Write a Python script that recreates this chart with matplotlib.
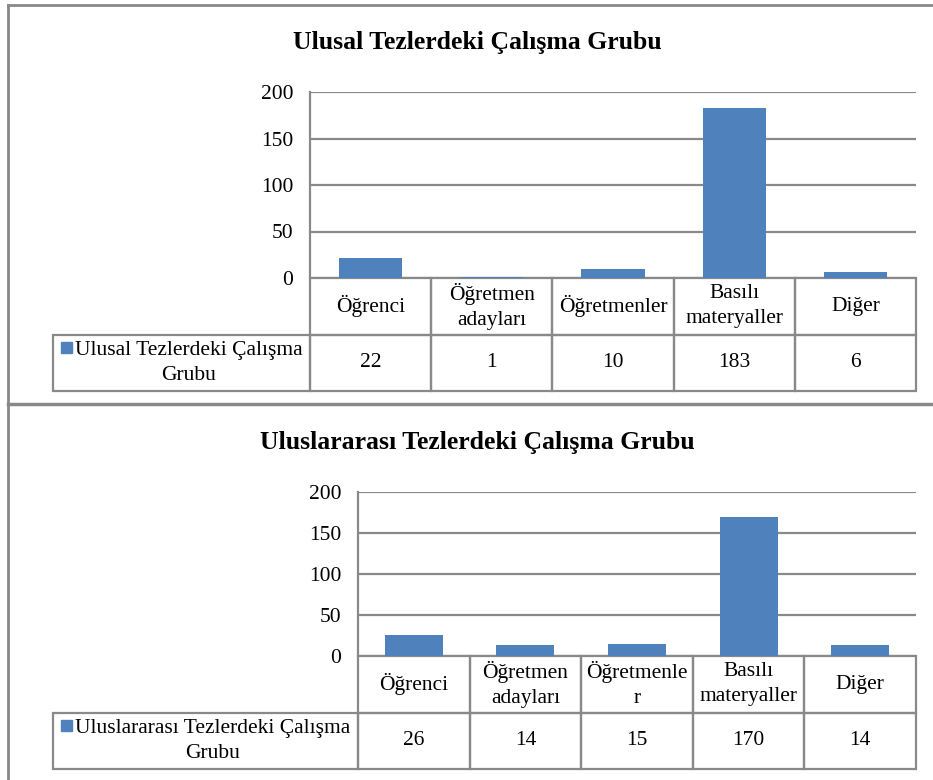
import matplotlib
matplotlib.use("Agg")
import matplotlib.pyplot as plt
from matplotlib.patches import Rectangle
from matplotlib.lines import Line2D

plt.rcParams['font.family'] = ['Liberation Serif', 'DejaVu Serif']

# Data
categories_top = ["Öğrenci", "Öğretmen\nadayları", "Öğretmenler", "Basılı\nmateryaller", "Diğer"]
values_top = [22, 1, 10, 183, 6]
categories_bottom = ["Öğrenci", "Öğretmen\nadayları", "Öğretmenle\nr", "Basılı\nmateryaller", "Diğer"]
values_bottom = [26, 14, 15, 170, 14]
yticks = [0, 50, 100, 150, 200]
title_top = "Ulusal Tezlerdeki Çalışma Grubu"
title_bottom = "Uluslararası Tezlerdeki Çalışma Grubu"
series_top = "Ulusal Tezlerdeki Çalışma\nGrubu"
series_bottom = "Uluslararası Tezlerdeki Çalışma\nGrubu"

BAR = "#4F81BD"
GRID = "#898989"
FS = 15.5
W, H = 933, 780

fig = plt.figure(figsize=(W / 100, H / 100), dpi=100)


def fx(x):
    return x / W


def fy(y):
    return 1 - y / H


def panel(cats, vals, title, series, left, top, right, zero, bottom, leg_left, title_y, sq_y):
    ax = fig.add_axes([fx(left), fy(zero), (right - left) / W, (zero - top) / H])
    x = range(len(cats))
    ax.bar(x, vals, width=0.52, color=BAR, zorder=2)
    ax.set_xlim(-0.5, len(cats) - 0.5)
    ax.set_ylim(0, 200)
    ax.set_yticks(yticks)
    ax.yaxis.grid(True, color=GRID, lw=1.6)
    ax.set_axisbelow(True)
    ax.set_xticks([])
    ax.tick_params(axis='y', length=0, pad=12, labelsize=FS)
    for s in ['top', 'right', 'bottom']:
        ax.spines[s].set_visible(False)
    ax.spines['left'].set_color(GRID)
    ax.spines['left'].set_linewidth(1.6)

    # data table under the axis
    w_ax = right - left
    h_ax = zero - top
    leg_w = (left - leg_left) / w_ax
    cell_text = [[""] + cats, [""] + [str(v) for v in vals]]
    tb = ax.table(cellText=cell_text, cellLoc='center',
                  colWidths=[leg_w] + [1 / len(cats)] * len(cats),
                  bbox=[-leg_w, -(bottom - zero) / h_ax, 1 + leg_w, (bottom - zero) / h_ax])
    tb.auto_set_font_size(False)
    tb.set_fontsize(FS)
    for (r, c), cell in tb.get_celld().items():
        cell.set_edgecolor(GRID)
        cell.set_linewidth(1.6)
        cell.set_facecolor('none')
        cell.get_text().set_linespacing(1.4)
        if r == 0 and c == 0:
            cell.visible_edges = ''

    # legend key inside the table
    text_x = (leg_left + 22 + left) / 2 - 4
    fig.text(fx(text_x), fy(zero + 0.75 * (bottom - zero)), series, ha='center', va='center',
             fontsize=FS, linespacing=1.4)
    fig.add_artist(Rectangle((fx(leg_left + 8), fy(sq_y + 11)), 11 / W, 11 / H,
                             transform=fig.transFigure, color=BAR))

    fig.text(fx(477), fy(title_y), title, ha='center', va='center',
             fontsize=18.5, fontweight='bold')
    return ax


panel(categories_top, values_top, title_top, series_top,
      310, 92, 916, 278, 391, 53, 43, 342)
panel(categories_bottom, values_bottom, title_bottom, series_bottom,
      358, 492, 916, 656, 769, 53, 442, 720)

# outer frame of the two chart boxes
fig.add_artist(Line2D([fx(8), 1], [fy(5), fy(5)], transform=fig.transFigure, color=GRID, lw=2))
fig.add_artist(Line2D([fx(8), fx(8)], [fy(5), 0], transform=fig.transFigure, color=GRID, lw=2))
fig.add_artist(Line2D([fx(8), 1], [fy(404), fy(404)], transform=fig.transFigure, color=GRID, lw=2.5))

fig.savefig("out.png", dpi=100)
